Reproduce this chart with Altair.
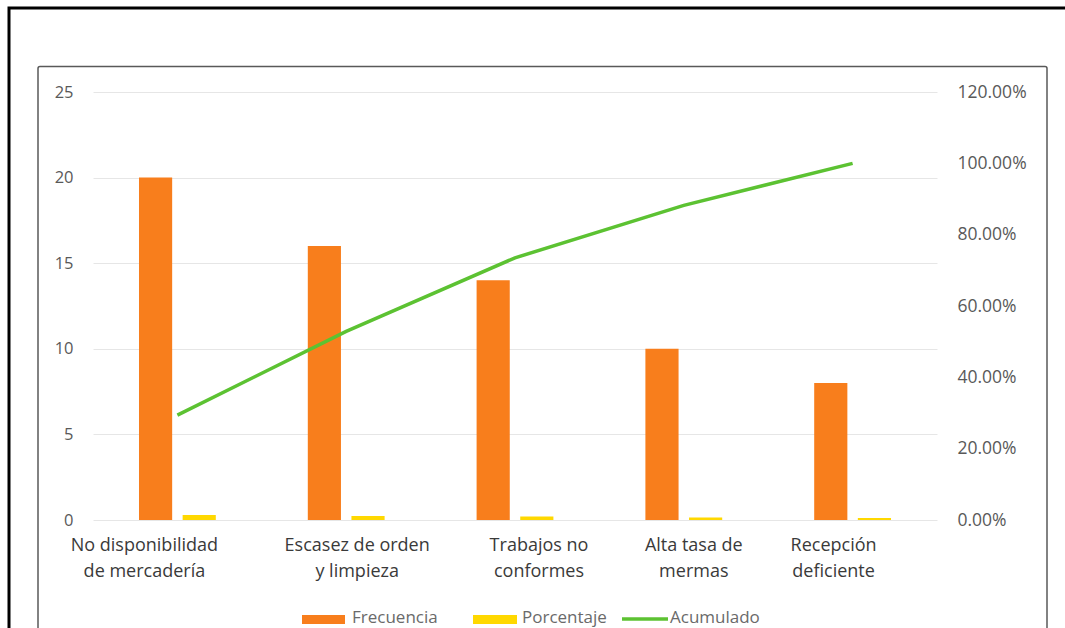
import altair as alt
import pandas as pd

categories = [
    "No disponibilidad|de mercadería",
    "Escasez de orden|y limpieza",
    "Trabajos no|conformes",
    "Alta tasa de|mermas",
    "Recepción|deficiente",
]
frecuencia = [20, 16, 14, 10, 8]
porcentaje = [0.294, 0.235, 0.206, 0.147, 0.118]
acumulado = [0.294, 0.529, 0.735, 0.882, 1.0]
series_names = ["Frecuencia", "Porcentaje", "Acumulado"]
series_colors = ["#F87E1C", "#FFD800", "#5CC232"]
left_ticks = [0, 5, 10, 15, 20, 25]
right_ticks = [0, 0.2, 0.4, 0.6, 0.8, 1.0, 1.2]

# styling: horizontal nudges of category labels (as in the reference layout)
label_nudge = [-33, 11, 24, 10, -19]

FONT = "Open Sans"
W, H = 844, 428

bars_df = pd.DataFrame(
    [{"cat": c, "serie": series_names[0], "valor": v} for c, v in zip(categories, frecuencia)]
    + [{"cat": c, "serie": series_names[1], "valor": v} for c, v in zip(categories, porcentaje)]
)
line_df = pd.DataFrame({"cat": categories, "acum": acumulado})
one = pd.DataFrame({"k": [0]})

label_offset = {
    "condition": [
        {"test": f"datum.value === '{c}'", "value": n} for c, n in zip(categories, label_nudge)
    ],
    "value": 0,
}

x_enc = alt.X(
    "cat:N",
    sort=categories,
    scale=alt.Scale(paddingInner=0.545, paddingOuter=0.2725),
    axis=alt.Axis(
        title=None, domain=False, ticks=False, labelAngle=0, labelPadding=16,
        labelFontSize=18, labelColor="#3a3a3a", labelFont=FONT, labelLineHeight=26,
        labelBaseline="top", labelExpr="split(datum.label, '|')", labelLimit=300,
        labelOffset=label_offset,
    ),
)

bars = alt.Chart(bars_df).mark_bar().encode(
    x=x_enc,
    xOffset=alt.XOffset("serie:N", sort=series_names[:2], scale=alt.Scale(paddingInner=0.24)),
    y=alt.Y(
        "valor:Q",
        scale=alt.Scale(domain=[0, 25], nice=False),
        axis=alt.Axis(
            title=None, values=left_ticks, domain=False, ticks=False,
            labelPadding=20, labelFontSize=16.5, labelColor="#595959", labelFont=FONT,
            gridColor="#E6E6E6", gridWidth=1,
        ),
    ),
    color=alt.Color("serie:N", scale=alt.Scale(domain=series_names[:2], range=series_colors[:2]), legend=None),
)

line = alt.Chart(line_df).mark_line(strokeWidth=3.5, color=series_colors[2]).encode(
    x=alt.X("cat:N", sort=categories),
    y=alt.Y(
        "acum:Q",
        scale=alt.Scale(domain=[0, 1.2], nice=False),
        axis=alt.Axis(
            title=None, orient="right", values=right_ticks, format=".2%", grid=False,
            domain=False, ticks=False, labelPadding=20, labelFontSize=17.5,
            labelColor="#595959", labelFont=FONT,
        ),
    ),
)

outer = alt.Chart(one).mark_rect(fill=None, stroke="#000000", strokeWidth=3).encode(
    x=alt.value(-84), x2=alt.value(985), y=alt.value(-84), y2=alt.value(560)
)
inner = alt.Chart(one).mark_rect(fill=None, stroke="#595959", strokeWidth=1.5, cornerRadius=2).encode(
    x=alt.value(-55), x2=alt.value(954), y=alt.value(-25.5), y2=alt.value(570)
)

leg_y = 526
sw1 = alt.Chart(one).mark_rect(color=series_colors[0]).encode(
    x=alt.value(209), x2=alt.value(252), y=alt.value(leg_y - 3), y2=alt.value(leg_y + 6))
sw2 = alt.Chart(one).mark_rect(color=series_colors[1]).encode(
    x=alt.value(380), x2=alt.value(424), y=alt.value(leg_y - 3), y2=alt.value(leg_y + 6))
sw3 = alt.Chart(one).mark_rule(color=series_colors[2], strokeWidth=3.5).encode(
    x=alt.value(529), x2=alt.value(575), y=alt.value(leg_y + 1))


def leg_text(label, xpos):
    return alt.Chart(one).mark_text(
        align="left", baseline="middle", fontSize=17, font=FONT, color="#6a6a6a"
    ).encode(x=alt.value(xpos), y=alt.value(leg_y), text=alt.value(label))


t1 = leg_text(series_names[0], 259)
t2 = leg_text(series_names[1], 429)
t3 = leg_text(series_names[2], 577)

chart = (
    alt.layer(bars, line, outer, inner, sw1, sw2, sw3, t1, t2, t3)
    .resolve_scale(y="independent")
    .properties(
        width=W, height=H,
        padding={"left": 93, "top": 92, "right": 128, "bottom": 108},
        autosize=alt.AutoSizeParams(type="none"),
        background="white",
    )
    .configure_view(stroke=None)
)

chart.save("out.html", embed_options={"renderer": "svg", "actions": False})
